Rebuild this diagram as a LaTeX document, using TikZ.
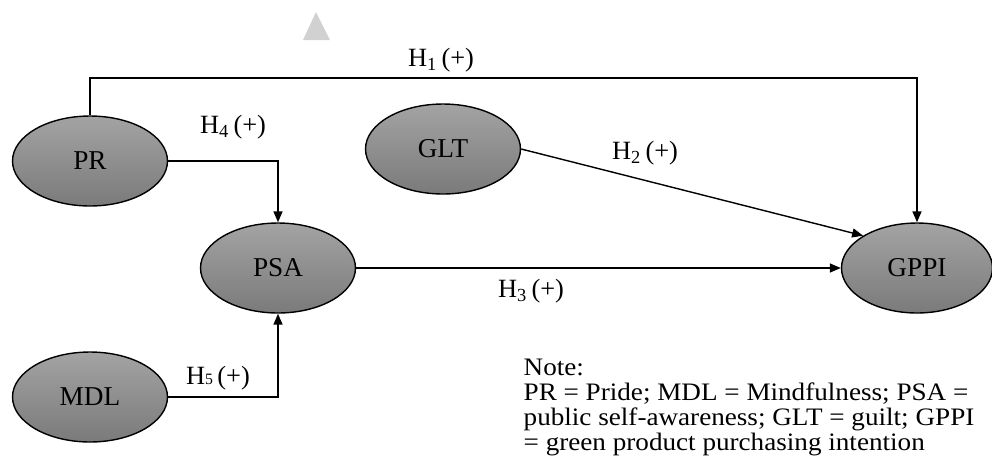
\documentclass[tikz,border=0pt]{standalone}
\usepackage{fontspec}
\setmainfont{Liberation Serif}
\newfontfamily\notefont[FakeStretch=1.08]{Liberation Serif}
\usetikzlibrary{arrows.meta, shapes.geometric}

\begin{document}
\begin{tikzpicture}[x=0.02cm, y=-0.02cm, thick, >={Triangle[length=2.2mm,width=1.8mm]},
                      var node/.style={ellipse, draw, inner sep=0pt, minimum width=3.1cm,
                        minimum height=1.8cm, top color=black!36, bottom color=black!52,
                        font=\fontsize{15.5}{17}\selectfont},
                      hyp/.style={font=\fontsize{15}{17}\selectfont}]
    \useasboundingbox (0,0) rectangle (992,468);
    \fill[black!18] (303,40) -- (316,12) -- (330,40) -- cycle;

    \node[var node] (pr)   at (90,161)  {PR};
    \node[var node] (glt)  at (443,149) {GLT};
    \node[var node] (psa)  at (278,268) {PSA};
    \node[var node] (mdl)  at (90,397)  {MDL};
    \node[var node, minimum width=3.02cm] (gppi) at (917,268) {GPPI};
    \coordinate (top) at (0,78);

    \draw[->] (pr.north) -- (pr.north |- top) -| (gppi.north);
    \draw[->] (pr.east) -| (psa.north);
    \draw[->] (glt.east) -- (gppi.north west);
    \draw[->] (psa.east) -- (gppi.west);
    \draw[->] (mdl.east) -| (psa.south);

    \node[hyp] (h1) at (441,60)  {H\textsubscript{1}\,(+)};
    \node[hyp] (h4) at (233,127) {H\textsubscript{4}\,(+)};
    \node[hyp] (h2) at (645,153) {H\textsubscript{2}\,(+)};
    \node[hyp] (h3) at (531,291) {H\textsubscript{3}\,(+)};
    \node[hyp] (h5) at (218,378) {H{\small 5}\,(+)};

    \node[anchor=north west, align=left, inner sep=0pt,
          font=\notefont\fontsize{14.3}{14.2pt}\selectfont] (note) at (523,358)
      {Note:\\PR = Pride; MDL = Mindfulness; PSA =\\public self-awareness; GLT = guilt; GPPI\\= green product purchasing intention};
  \end{tikzpicture}
\end{document}
